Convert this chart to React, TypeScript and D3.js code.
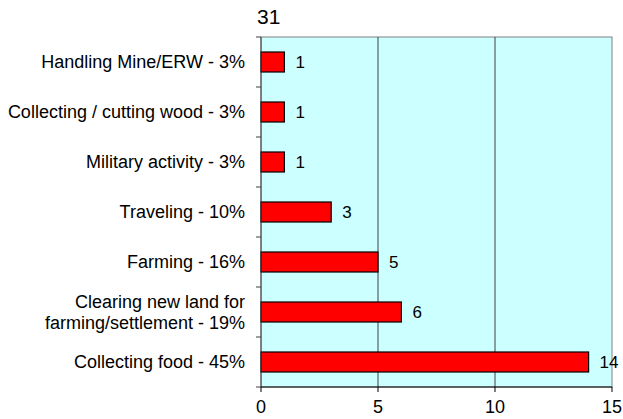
import React from "react";
import * as d3 from "d3";

const categories: string[][] = [
  ["Handling Mine/ERW - 3%"],
  ["Collecting / cutting wood - 3%"],
  ["Military activity - 3%"],
  ["Traveling - 10%"],
  ["Farming - 16%"],
  ["Clearing new land for", "farming/settlement - 19%"],
  ["Collecting food - 45%"],
];
const values: number[] = [1, 1, 1, 3, 5, 6, 14];
const xTicks: number[] = [0, 5, 10, 15];
const title = "31";

export default function App() {
  const W = 623, H = 419;
  const left = 261, right = 612, top = 37, bottom = 387;
  const x = d3.scaleLinear().domain([0, 15]).range([left, right]);
  const keys = categories.map((_, i) => String(i));
  const y = d3.scaleBand().domain(keys).range([top, bottom]).paddingInner(0.6).paddingOuter(0.3);
  const band = (bottom - top) / categories.length;
  const font = "Arial, 'Liberation Sans', sans-serif";
  return (
    <svg width={W} height={H} style={{ position: "absolute", left: 0, top: 0 }} fontFamily={font}>
      <rect x={0} y={0} width={W} height={H} fill="#fff" />
      <text x={257} y={17} dy="0.35em" fontSize={21} fill="#000">{title}</text>
      <rect x={left} y={top} width={right - left} height={bottom - top} fill="#CCFFFF" stroke="#808080" strokeWidth={1} />
      {xTicks.slice(1, -1).map((t) => (
        <line key={t} x1={x(t)} x2={x(t)} y1={top} y2={bottom} stroke="#404040" strokeWidth={1} />
      ))}
      {values.map((v, i) => (
        <g key={i}>
          <rect x={x(0)} y={y(String(i))!} width={x(v) - x(0)} height={y.bandwidth()} fill="#FF0000" stroke="#000" strokeWidth={1.2} />
          <text x={x(v) + 11} y={y(String(i))! + y.bandwidth() / 2} dy="0.35em" fontSize={17} fill="#000">{v}</text>
        </g>
      ))}
      {categories.map((lines, i) => {
        const cy = top + band * (i + 0.5);
        const lh = 21;
        return (
          <text key={i} x={245} textAnchor="end" fontSize={18} fill="#000">
            {lines.map((l, j) => (
              <tspan key={j} x={245} y={cy + (j - (lines.length - 1) / 2) * lh} dy="0.35em">{l}</tspan>
            ))}
          </text>
        );
      })}
      <line x1={left} x2={left} y1={top} y2={bottom} stroke="#404040" strokeWidth={1} />
      {d3.range(categories.length + 1).map((i) => (
        <line key={i} x1={left - 5} x2={left} y1={top + band * i} y2={top + band * i} stroke="#404040" />
      ))}
      <line x1={left} x2={right} y1={bottom} y2={bottom} stroke="#000" strokeWidth={1} />
      {xTicks.map((t) => (
        <g key={t}>
          <line x1={x(t)} x2={x(t)} y1={bottom} y2={bottom + 5} stroke="#000" />
          <text x={x(t)} y={407} dy="0.35em" textAnchor="middle" fontSize={18} fill="#000">{t}</text>
        </g>
      ))}
    </svg>
  );
}
